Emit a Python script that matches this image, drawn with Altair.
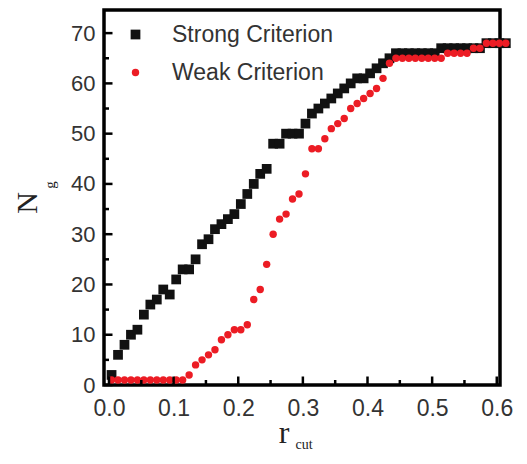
import altair as alt
import pandas as pd

r_cut = [0.004, 0.014, 0.024, 0.034, 0.044, 0.054, 0.064, 0.074, 0.084, 0.094,
         0.104, 0.114, 0.124, 0.134, 0.144, 0.154, 0.164, 0.174, 0.184, 0.194,
         0.204, 0.214, 0.224, 0.234, 0.244, 0.254, 0.264, 0.274, 0.284, 0.294,
         0.304, 0.314, 0.324, 0.334, 0.344, 0.354, 0.364, 0.374, 0.384, 0.394,
         0.404, 0.414, 0.424, 0.434, 0.444, 0.454, 0.464, 0.474, 0.484, 0.494,
         0.504, 0.514, 0.524, 0.534, 0.544, 0.554, 0.564, 0.574, 0.584, 0.594,
         0.604, 0.614]

strong = [2, 6, 8, 10, 11, 14, 16, 17, 19, 18,
          21, 23, 23, 25, 28, 29, 31, 32, 33, 34,
          36, 38, 40, 42, 43, 48, 48, 50, 50, 50,
          52, 54, 55, 56, 57, 58, 59, 60, 61, 61,
          62, 63, 64, 65, 66, 66, 66, 66, 66, 66,
          66, 67, 67, 67, 67, 67, 67, 67, 68, 68,
          68, 68]

weak = [1, 1, 1, 1, 1, 1, 1, 1, 1, 1,
        1, 1, 2, 4, 5, 6, 7, 9, 10, 11,
        11, 12, 17, 19, 24, 30, 33, 34, 37, 38,
        42, 47, 47, 49, 51, 52, 53, 55, 56, 57,
        58, 59, 61, 64, 65, 65, 65, 65, 65, 65,
        65, 65, 66, 66, 66, 66, 67, 67, 68, 68,
        68, 68]

series_names = ["Strong Criterion", "Weak Criterion"]
y_major = [0, 10, 20, 30, 40, 50, 60, 70]
y_minor = [5, 15, 25, 35, 45, 55, 65]
x_major = [0.0, 0.1, 0.2, 0.3, 0.4, 0.5, 0.6]
x_minor = [0.05, 0.15, 0.25, 0.35, 0.45, 0.55]

rows = []
for x, v in zip(r_cut, strong):
    rows.append({"r": x, "N": v, "s": series_names[0]})
for x, v in zip(r_cut, weak):
    rows.append({"r": x, "N": v, "s": series_names[1]})
df = pd.DataFrame(rows)

W, H = 396, 375
xscale = alt.Scale(domain=[-0.0077, 0.605], nice=False, zero=False)
yscale = alt.Scale(domain=[0, 74.6], nice=False, zero=False)
FONT = "Liberation Sans"
LABEL = "#333333"

xaxis = alt.Axis(values=x_major, format=".1f", ticks=False, domain=False,
                 grid=False, labelFontSize=23, labelFont=FONT,
                 labelColor=LABEL, labelPadding=12, title=None, labelFlush=False)
yaxis = alt.Axis(values=y_major, format="d", ticks=False, domain=False, grid=False,
                 labelFontSize=22, labelFont=FONT, labelColor=LABEL,
                 labelPadding=9, title=None, labelFlush=False)

points = alt.Chart(df).mark_point(filled=True, opacity=1, strokeWidth=0).encode(
    x=alt.X("r:Q", scale=xscale, axis=xaxis),
    y=alt.Y("N:Q", scale=yscale, axis=yaxis),
    color=alt.Color("s:N", scale=alt.Scale(domain=series_names, range=["#111111", "#ec1c24"]),
                    legend=alt.Legend(orient="none", legendX=20, legendY=13, title=None,
                                      labelFontSize=23, labelFont=FONT, labelColor=LABEL,
                                      labelOffset=25, rowPadding=14, symbolStrokeWidth=0,
                                      padding=0, labelLimit=400)),
    shape=alt.Shape("s:N", scale=alt.Scale(domain=series_names, range=["square", "circle"])),
    size=alt.Size("s:N", scale=alt.Scale(domain=series_names, range=[95, 55])),
)

ymaj = alt.Chart(pd.DataFrame({"N": y_major})).mark_rule(color="black", strokeWidth=2.5).encode(
    y=alt.Y("N:Q", scale=yscale, axis=yaxis), x=alt.value(0), x2=alt.value(8.5))
ymin = alt.Chart(pd.DataFrame({"N": y_minor})).mark_rule(color="black", strokeWidth=2.5).encode(
    y=alt.Y("N:Q", scale=yscale, axis=yaxis), x=alt.value(0), x2=alt.value(5))
xmaj = alt.Chart(pd.DataFrame({"r": x_major})).mark_rule(color="black", strokeWidth=2.5).encode(
    x=alt.X("r:Q", scale=xscale, axis=xaxis), y=alt.value(H), y2=alt.value(H - 8.5))
xmin = alt.Chart(pd.DataFrame({"r": x_minor})).mark_rule(color="black", strokeWidth=2.5).encode(
    x=alt.X("r:Q", scale=xscale, axis=xaxis), y=alt.value(H), y2=alt.value(H - 5))

y_title = alt.Chart(pd.DataFrame({"t": ["N"]})).mark_text(
    font="Liberation Serif", fontSize=30, angle=270, color="#222222").encode(
    text="t:N", x=alt.value(-76), y=alt.value(193))
y_sub = alt.Chart(pd.DataFrame({"t": ["g"]})).mark_text(
    font="Liberation Serif", fontSize=15, angle=270, color="#222222").encode(
    text="t:N", x=alt.value(-54), y=alt.value(175))
x_title = alt.Chart(pd.DataFrame({"t": ["r"]})).mark_text(
    font="Liberation Serif", fontSize=32, color="#222222").encode(
    text="t:N", x=alt.value(180), y=alt.value(423))
x_sub = alt.Chart(pd.DataFrame({"t": ["cut"]})).mark_text(
    font="Liberation Serif", fontSize=14, color="#222222").encode(
    text="t:N", x=alt.value(200), y=alt.value(435))

chart = alt.layer(points, ymaj, ymin, xmaj, xmin, y_title, y_sub, x_title, x_sub).properties(
    width=W, height=H,
    autosize=alt.AutoSizeParams(type="none"),
    padding={"left": 96, "top": 2, "right": 18, "bottom": 71},
).configure_view(stroke="black", strokeWidth=3.5)

chart.save("out.html", embed_options={"renderer": "svg", "actions": False})
